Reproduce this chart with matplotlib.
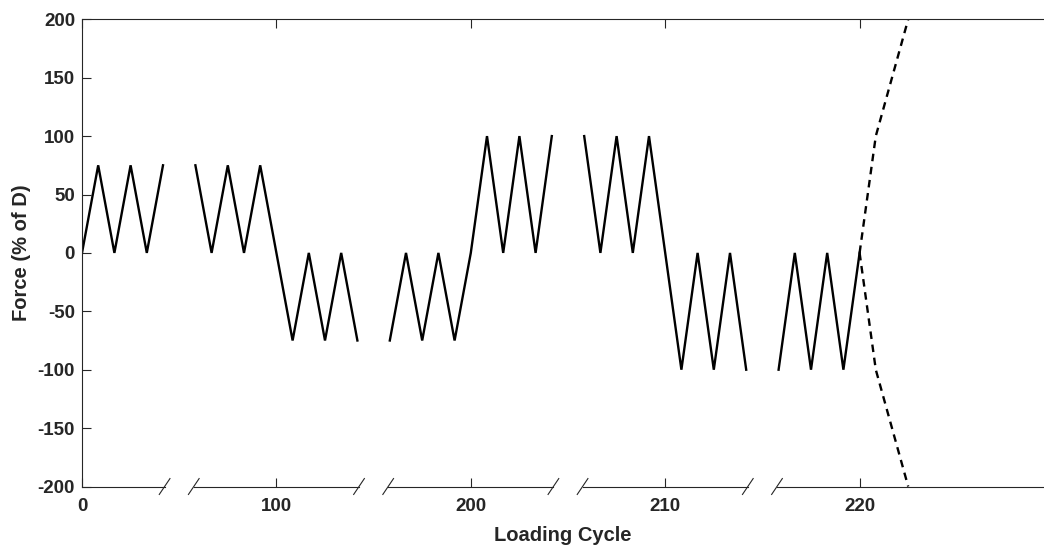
import matplotlib
matplotlib.use("Agg")
import matplotlib.pyplot as plt
import matplotlib.transforms as mtransforms

# ---- data (x = position along broken axis, in quarter-cycle steps) ----
seg1_x = [0, 1, 2, 3, 4, 5]
seg1_y = [0, 75, 0, 75, 0, 75]
seg2_x = [7, 8, 9, 10, 11, 12, 13, 14, 15, 16, 17]
seg2_y = [75, 0, 75, 0, 75, 0, -75, 0, -75, 0, -75]
seg3_x = [19, 20, 21, 22, 23, 24, 25, 26, 27, 28, 29]
seg3_y = [-75, 0, -75, 0, -75, 0, 100, 0, 100, 0, 100]
seg4_x = [31, 32, 33, 34, 35, 36, 37, 38, 39, 40, 41]
seg4_y = [100, 0, 100, 0, 100, 0, -100, 0, -100, 0, -100]
seg5_x = [43, 44, 45, 46, 47, 48]
seg5_y = [-100, 0, -100, 0, -100, 0]
dash_up_x = [48, 49, 51]
dash_up_y = [0, 100, 200]
dash_dn_x = [48, 49, 51]
dash_dn_y = [0, -100, -200]

tick_pos = [0, 12, 24, 36, 48]
tick_labels = ["0", "100", "200", "210", "220"]
yticks = [-200, -150, -100, -50, 0, 50, 100, 150, 200]

segments = [(seg1_x, seg1_y), (seg2_x, seg2_y), (seg3_x, seg3_y),
            (seg4_x, seg4_y), (seg5_x, seg5_y)]

plt.rcParams['font.family'] = ['Liberation Sans', 'DejaVu Sans']
plt.rcParams['font.weight'] = 'bold'
plt.rcParams['axes.unicode_minus'] = False

fig = plt.figure(figsize=(10.44, 5.46), dpi=100)
ax = fig.add_axes([82/1044, 1 - 486.5/546, 1 - 82/1044, (486.5 - 19.3)/546])

axc = '#262626'
for sx, sy in segments:
    ax.plot(sx, sy, color='black', lw=1.7, solid_joinstyle='miter')
ax.plot(dash_up_x, dash_up_y, color='black', lw=1.7, dashes=(3.2, 2.4))
ax.plot(dash_dn_x, dash_dn_y, color='black', lw=1.7, dashes=(3.2, 2.4))

xmax = (1044 - 82) / 16.2
ax.set_xlim(0, xmax)
ax.set_ylim(-200, 200)
ax.set_xticks(tick_pos)
ax.set_xticklabels(tick_labels)
ax.set_yticks(yticks)

ax.spines['right'].set_visible(False)
ax.spines['bottom'].set_visible(False)
ax.spines['top'].set_color(axc)
ax.spines['left'].set_color(axc)
ax.spines['top'].set_linewidth(0.8)
ax.spines['left'].set_linewidth(0.8)

ax.tick_params(axis='both', direction='in', length=6.5, width=0.8, color=axc,
               labelcolor=axc, labelsize=13.5)
ax.tick_params(axis='x', top=True, bottom=True, pad=8)
ax.tick_params(axis='y', right=False, pad=5)
for lbl in ax.get_xticklabels() + ax.get_yticklabels():
    lbl.set_fontweight('bold')

# broken bottom axis with slash marks
trans = mtransforms.blended_transform_factory(ax.transData, ax.transAxes)
cuts = []
for (ax1, _), (bx, _) in zip(segments[:-1], segments[1:]):
    cuts.append((ax1[-1] + 0.1, bx[0] - 0.1))
edges = [0] + [c for pair in cuts for c in pair] + [xmax]
for i in range(0, len(edges), 2):
    ax.plot([edges[i], edges[i + 1]], [0, 0], color=axc, lw=0.8,
            transform=trans, clip_on=False)
dxs, dys = 0.33, 0.017
for pair in cuts:
    for c in pair:
        ax.plot([c - dxs, c + dxs], [-dys, dys], color=axc, lw=0.8,
                transform=trans, clip_on=False)

ax.set_xlabel('Loading Cycle', fontsize=14.5, fontweight='bold', color=axc, labelpad=8)
ax.set_ylabel('Force (% of D)', fontsize=14.5, fontweight='bold', color=axc, labelpad=5)

fig.savefig('out.png', dpi=100)
